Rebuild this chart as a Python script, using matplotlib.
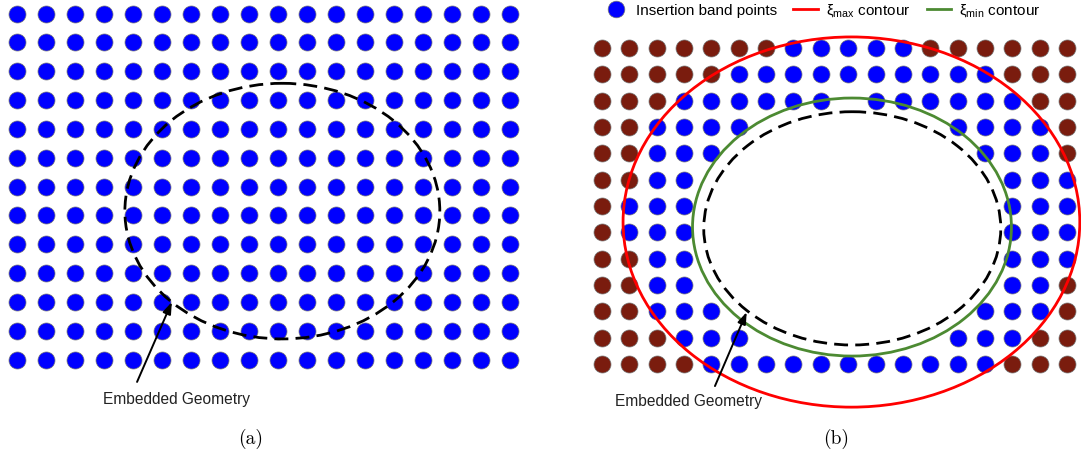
import matplotlib
matplotlib.use("Agg")
import matplotlib.pyplot as plt
from matplotlib.patches import Ellipse, FancyArrowPatch
from matplotlib.lines import Line2D
import numpy as np

plt.rcParams["font.family"] = ["Liberation Sans", "DejaVu Sans"]
plt.rcParams["mathtext.fontset"] = "custom"
plt.rcParams["mathtext.rm"] = "Liberation Sans"
plt.rcParams["mathtext.default"] = "regular"

# background grid: 18 columns x 13 rows of nodes
N_COLS = 18
N_ROWS = 13

# embedded geometry (ellipse) in grid units: centre, semi-axes
GEOM_CENTER = (9.15, 6.85)
GEOM_RADII = (5.43, 4.43)

# level-set band contours (grid units)
XI_MAX_CENTER = (9.12, 6.61)
XI_MAX_RADII = (8.35, 7.03)
XI_MIN_CENTER = (9.14, 6.80)
XI_MIN_RADII = (5.83, 4.90)

# node classification after band detection, one string per row (top to bottom)
# r = outside band, b = insertion band point, . = removed (inside geometry)
BAND_ROWS = [
    "rrrrrrrbbbbbrrrrrr",
    "rrrrrbbbbbbbbbbrrr",
    "rrrbbbbbb.bbbbbbrr",
    "rrbbbb.......bbbbr",
    "rrbbb.........bbbr",
    "rrbb...........bbb",
    "rbbb...........bbb",
    "rbbb...........bbb",
    "rrbb...........bbb",
    "rrbb...........bbr",
    "rrbbb.........bbbr",
    "rrrbbb.......bbbrr",
    "rrrrbbbbbbbbbbbrrr",
]

BLUE = "#0000ff"
BROWN = "#7a1c0e"
RED = "#ff0000"
GREEN = "#4c8a32"
DOT_SIZE = 150

W, H = 1081, 460
fig = plt.figure(figsize=(W / 100, H / 100), dpi=100)


def make_axes(px0, px1, x_first, x_step, y_first, y_step):
    """Axes spanning pixel columns px0..px1, in grid-index units."""
    ax = fig.add_axes([px0 / W, 0, (px1 - px0) / W, 1])
    ax.set_xlim((px0 - x_first) / x_step, (px1 - x_first) / x_step)
    ax.set_ylim((H - y_first) / y_step, (0 - y_first) / y_step)
    ax.axis("off")
    return ax


def draw_geometry(ax):
    ax.add_patch(Ellipse(GEOM_CENTER, 2 * GEOM_RADII[0], 2 * GEOM_RADII[1],
                         fill=False, ec="black", lw=2.0, ls=(0, (5, 2.6)),
                         zorder=4))


def label_geometry(ax, text_xy, tail, tip):
    ax.text(*text_xy, "Embedded Geometry", fontsize=11.2, ha="left",
            va="center", color="#222222")
    ax.add_patch(FancyArrowPatch(tail, tip,
                                 arrowstyle="-|>,head_length=7,head_width=2.5",
                                 color="black", lw=1.4, shrinkA=0, shrinkB=0,
                                 zorder=6))


cols, rows = np.meshgrid(np.arange(N_COLS), np.arange(N_ROWS))

# (a) uniform background mesh
ax_a = make_axes(0, 540, 17, 29.0, 14.5, 28.85)
ax_a.scatter(cols.ravel(), rows.ravel(), s=DOT_SIZE, c=BLUE,
             edgecolors="#777777", linewidths=0.5, zorder=3)
draw_geometry(ax_a)
label_geometry(ax_a, (2.97, 13.33), (4.14, 12.77), (5.34, 10.0))
ax_a.text(8.06, 14.7, "(a)", family="cmr10", fontsize=14, ha="center",
          va="center")

# (b) insertion band between the xi_min and xi_max contours
ax_b = make_axes(540, W, 602, 27.35, 49, 26.33)
status = np.array([list(r) for r in BAND_ROWS])
for code, color in [("r", BROWN), ("b", BLUE)]:
    m = status == code
    ax_b.scatter(cols[m], rows[m], s=DOT_SIZE, c=color,
                 edgecolors="#777777", linewidths=0.5, zorder=3)
ax_b.add_patch(Ellipse(XI_MAX_CENTER, 2 * XI_MAX_RADII[0], 2 * XI_MAX_RADII[1],
                       fill=False, ec=RED, lw=2.0, zorder=4))
ax_b.add_patch(Ellipse(XI_MIN_CENTER, 2 * XI_MIN_RADII[0], 2 * XI_MIN_RADII[1],
                       fill=False, ec=GREEN, lw=2.0, zorder=4))
draw_geometry(ax_b)
label_geometry(ax_b, (0.475, 13.37), (4.13, 12.84), (5.29, 10.03))
ax_b.text(8.56, 14.82, "(b)", family="cmr10", fontsize=14, ha="center",
          va="center")

handles = [
    Line2D([0], [0], ls="none", marker="o", ms=12, mfc=BLUE, mec="#777777",
           mew=0.5, label="Insertion band points"),
    Line2D([0], [0], color=RED, lw=2.0, label="ξ$_{max}$ contour"),
    Line2D([0], [0], color=GREEN, lw=2.0, label="ξ$_{min}$ contour"),
]
ax_b.legend(handles=handles, loc="center", bbox_to_anchor=(0.521, 0.976),
            ncol=3, frameon=False, fontsize=11.0, handlelength=1.6,
            handletextpad=0.5, columnspacing=1.1, borderaxespad=0)

fig.savefig("out.png", dpi=100)
